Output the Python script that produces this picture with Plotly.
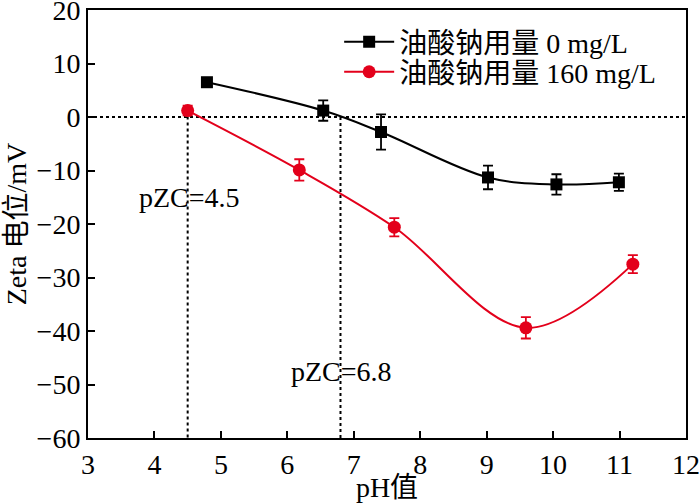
import plotly.graph_objects as go

# Data
ph_0 = [4.79, 6.54, 7.41, 9.02, 10.05, 10.99]
zeta_0 = [6.5, 1.2, -2.8, -11.3, -12.6, -12.2]
err_0 = [0.0, 1.9, 3.3, 2.2, 1.9, 1.6]

ph_160 = [4.50, 6.18, 7.61, 9.59, 11.20]
zeta_160 = [1.2, -9.9, -20.6, -39.4, -27.5]
err_160 = [0.9, 2.0, 1.7, 2.0, 1.7]

name_0 = "油酸钠用量 0 mg/L"
name_160 = "油酸钠用量 160 mg/L"

pzc_values = [4.5, 6.8]
pzc_tops = [1.2, 0.0]
pzc_labels = ["pZC=4.5", "pZC=6.8"]
pzc_label_x = [4.52, 6.81]
pzc_label_y = [-15.1, -47.6]

x_ticks = [3, 4, 5, 6, 7, 8, 9, 10, 11, 12]
y_ticks = [-60, -50, -40, -30, -20, -10, 0, 10, 20]

RED = "#E3001B"
FONT = "Liberation Serif, Times New Roman, Noto Sans CJK SC, serif"
FS = 28

fig = go.Figure()

fig.add_trace(go.Scatter(
    x=ph_0, y=zeta_0, name=name_0, mode="lines+markers", legend="legend",
    line=dict(color="black", width=2, shape="spline", smoothing=1),
    marker=dict(symbol="square", size=12, color="black"),
    error_y=dict(type="data", array=err_0, visible=True, color="black",
                 thickness=1.8, width=5),
))
fig.add_trace(go.Scatter(
    x=ph_160, y=zeta_160, name=name_160, mode="lines+markers", legend="legend2",
    line=dict(color=RED, width=2, shape="spline", smoothing=1),
    marker=dict(symbol="circle", size=13, color=RED),
    error_y=dict(type="data", array=err_160, visible=True, color=RED,
                 thickness=1.8, width=5),
))

# zero line
fig.add_shape(type="line", xref="x", yref="y", x0=x_ticks[0], x1=x_ticks[-1],
              y0=0, y1=0, line=dict(color="black", width=2, dash="dot"), layer="below")
# pZC vertical lines
for xv, top in zip(pzc_values, pzc_tops):
    fig.add_shape(type="line", xref="x", yref="y", x0=xv, x1=xv,
                  y0=top, y1=y_ticks[0],
                  line=dict(color="black", width=2, dash="dot"), layer="below")

for txt, xv, yv in zip(pzc_labels, pzc_label_x, pzc_label_y):
    fig.add_annotation(x=xv, y=yv, xref="x", yref="y", text=txt, showarrow=False,
                       font=dict(family=FONT, size=FS, color="black"))

axis_common = dict(
    showline=True, linecolor="black", linewidth=2, mirror=True,
    ticks="inside", ticklen=7, tickwidth=1.5, tickcolor="black",
    showgrid=False, zeroline=False, automargin=False,
    ticklabeloverflow="allow",
    tickfont=dict(family=FONT, size=FS, color="black"),
)

legend_common = dict(xanchor="left", yanchor="middle",
                     bgcolor="rgba(0,0,0,0)", borderwidth=0,
                     font=dict(family=FONT, size=FS), itemwidth=50)

fig.update_layout(
    width=700, height=503,
    margin=dict(l=88, r=14, t=10, b=65),
    paper_bgcolor="white", plot_bgcolor="white",
    font=dict(family=FONT, size=FS, color="black"),
    xaxis=dict(range=[x_ticks[0], x_ticks[-1]], tickvals=x_ticks,
               title=dict(text="pH值", font=dict(family=FONT, size=FS), standoff=2),
               **axis_common),
    yaxis=dict(range=[y_ticks[0], y_ticks[-1]], tickvals=y_ticks,
               tickformat="d",
               title=dict(text="Zeta 电位/mV", font=dict(family=FONT, size=FS), standoff=2),
               **axis_common),
    legend=dict(x=0.42, y=0.925, **legend_common),
    legend2=dict(x=0.42, y=0.855, **legend_common),
    showlegend=True,
)

fig.write_html("out.html", config={"displayModeBar": False},
               post_script="document.body.style.margin='0';document.body.style.overflow='hidden';")
